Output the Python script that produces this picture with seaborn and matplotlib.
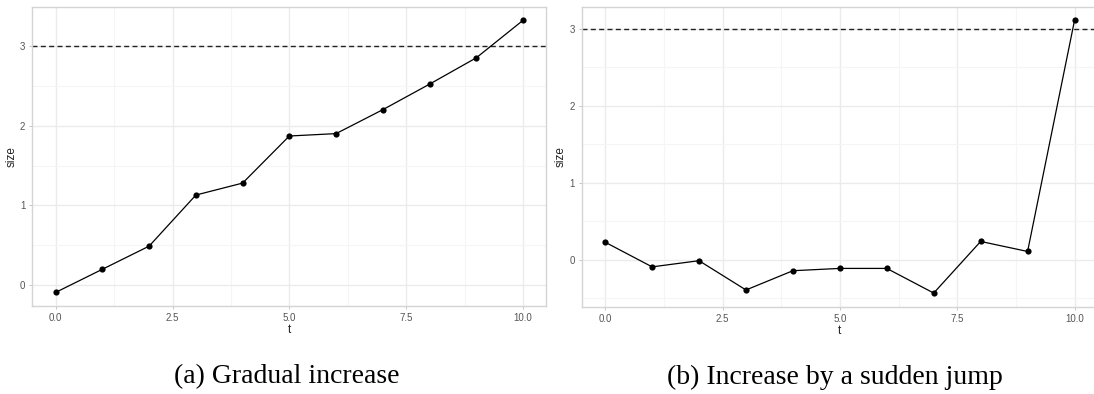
import numpy as np
import pandas as pd
import matplotlib
matplotlib.use("Agg")
import matplotlib.pyplot as plt
from matplotlib.ticker import MultipleLocator
import seaborn as sns

# -- data --------------------------------------------------------
t = list(range(11))
size_gradual = [-0.09, 0.20, 0.49, 1.13, 1.28, 1.87, 1.90, 2.20, 2.52, 2.85, 3.32]
size_jump = [0.23, -0.09, -0.01, -0.39, -0.14, -0.11, -0.11, -0.43, 0.24, 0.11, 3.11]
threshold = 3
captions = ["(a) Gradual increase", "(b) Increase by a sudden jump"]

sns.set_theme(style="whitegrid")
plt.rcParams['font.family'] = ['Liberation Sans', 'DejaVu Sans']

GRID = "#ebebeb"
MINOR = "#f5f5f5"
BORDER = "#d4d4d4"
TICK = "#555555"

fig = plt.figure(figsize=(10.94, 3.94), dpi=100)
W, H = 1094, 394
boxes = [(32.3, 546.4, 6.7, 306.0), (581.7, 1098.0, 6.7, 306.7)]


def expand(vals):
    lo, hi = min(vals), max(vals)
    pad = (hi - lo) * 0.05
    return lo - pad, hi + pad


for (x0, x1, y0, y1), vals, cap in zip(boxes, [size_gradual, size_jump], captions):
    ax = fig.add_axes([x0 / W, 1 - y1 / H, (x1 - x0) / W, (y1 - y0) / H])
    df = pd.DataFrame({"t": t, "size": vals})
    ax.set_facecolor("white")

    ax.xaxis.set_major_locator(MultipleLocator(2.5))
    ax.xaxis.set_minor_locator(MultipleLocator(1.25))
    ax.yaxis.set_major_locator(MultipleLocator(1))
    ax.yaxis.set_minor_locator(MultipleLocator(0.5))
    ax.grid(which="major", color=GRID, linewidth=1.0)
    ax.grid(which="minor", color=MINOR, linewidth=0.8)
    ax.set_axisbelow(True)

    ax.axhline(threshold, color="#222222", linestyle=(0, (3.6, 2.4)), linewidth=1.0, zorder=2)
    sns.lineplot(data=df, x="t", y="size", ax=ax, color="black", linewidth=0.9, zorder=3)
    sns.scatterplot(data=df, x="t", y="size", ax=ax, color="black", s=20,
                    edgecolor="black", linewidth=0, zorder=4)

    ax.set_xlim(-0.5, 10.5)
    ax.set_ylim(*expand(vals))
    ax.set_xticks([0, 2.5, 5, 7.5, 10])
    ax.set_xticklabels(["0.0", "2.5", "5.0", "7.5", "10.0"])

    for s in ax.spines.values():
        s.set_visible(True)
        s.set_color(BORDER)
        s.set_linewidth(1.0)
    ax.tick_params(which="major", length=2.5, width=0.6, color="#bbbbbb",
                   labelsize=7, labelcolor=TICK, pad=2.5, bottom=True, left=True)
    ax.tick_params(which="minor", length=0)
    ax.set_xlabel("t", fontsize=8.5, color="#222222", labelpad=1)
    ax.set_ylabel("size", fontsize=8.5, color="#222222", labelpad=2)

    cx = ((x0 + min(x1, W)) / 2 - 3) / W
    fig.text(cx, 1 - 377 / H, cap, ha="center", va="center", fontsize=20,
             family=["Liberation Serif", "DejaVu Serif"], color="black")

fig.savefig("out.png", dpi=100)
